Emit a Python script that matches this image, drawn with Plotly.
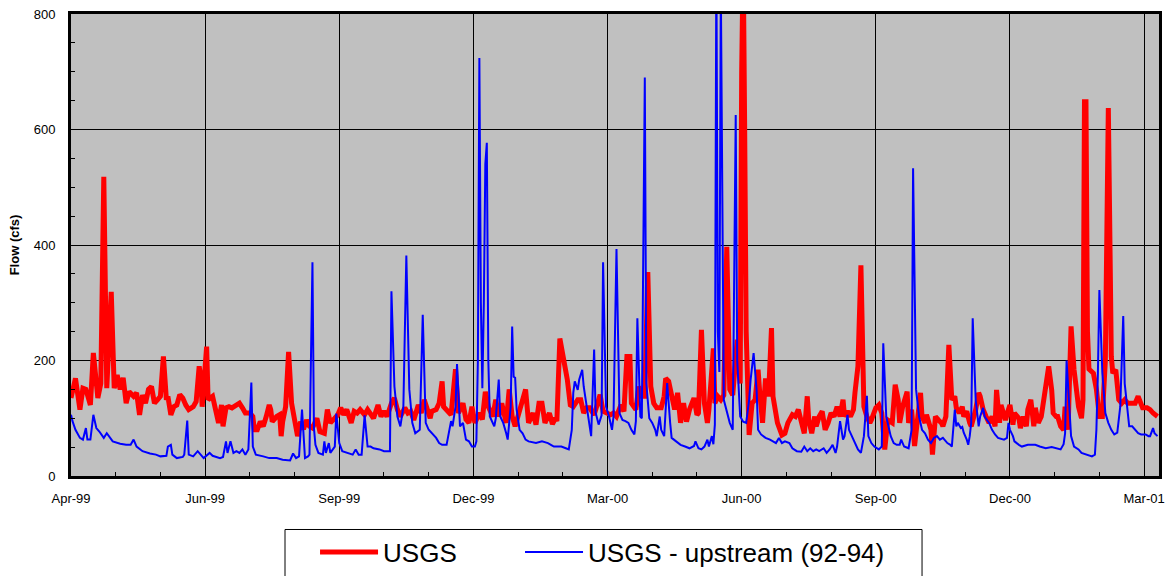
import pandas as pd
import plotly.graph_objects as go

start_date = "1999-04-01"

# USGS gauge: day offset from start_date, flow (cfs)
usgs_day = [0, 3, 6, 8, 10, 13, 15, 18, 20, 22, 24, 27, 29, 31, 33, 35, 37, 39, 42, 44, 46, 48, 50, 52, 54, 56, 58, 60, 62, 64, 65, 67, 69, 71, 73, 75, 77, 79, 82, 84, 86, 87, 88, 91, 92, 95, 97, 99, 101, 102, 104, 106, 108, 111, 113, 115, 117, 120, 122, 123, 125, 127, 129, 131, 133, 134, 135, 138, 140, 141, 142, 144, 146, 148, 150, 152, 154, 156, 158, 160, 162, 165, 167, 170, 172, 174, 177, 179, 181, 183, 185, 188, 190, 192, 194, 197, 199, 201, 203, 206, 208, 210, 212, 215, 217, 219, 221, 224, 226, 228, 230, 233, 235, 237, 239, 241, 242, 245, 247, 249, 250, 252, 255, 258, 260, 263, 265, 267, 269, 271, 274, 276, 278, 280, 283, 285, 287, 289, 292, 294, 296, 298, 301, 303, 305, 307, 310, 312, 314, 316, 318, 321, 323, 325, 326, 328, 329, 331, 333, 335, 337, 340, 342, 344, 346, 348, 351, 353, 355, 357, 360, 362, 364, 366, 369, 371, 373, 375, 376, 379, 381, 383, 385, 387, 389, 391, 393, 396, 398, 399, 401, 403, 405, 407, 409, 411, 413, 415, 418, 420, 421, 423, 425, 427, 428, 431, 432, 434, 436, 438, 440, 442, 444, 447, 449, 450, 451, 452, 453, 455, 457, 459, 461, 462, 464, 466, 468, 470, 471, 474, 475, 477, 479, 481, 484, 486, 488, 490, 492, 494, 495, 497, 499, 500, 502, 504, 506, 508, 510, 512, 514, 516, 518, 519, 521, 523, 525, 526, 528, 530, 531, 532, 534, 536, 537, 540, 542, 544, 546, 548, 551, 553, 555, 556, 558, 561, 562, 564, 566, 568, 570, 571, 573, 574, 576, 577, 578, 580, 582, 584, 585, 587, 589, 591, 593, 594, 596, 598, 599, 601, 603, 604, 607, 609, 610, 612, 614, 616, 618, 620, 621, 623, 624, 627, 629, 630, 632, 633, 636, 637, 639, 641, 642, 644, 646, 647, 649, 651, 652, 654, 656, 658, 659, 661, 662, 664, 666, 667, 669, 670, 671, 673, 675, 676, 678, 679, 680, 681, 682, 683, 686, 688, 690, 692, 694, 696, 698, 699, 701, 703, 705, 707, 709, 712, 714, 716, 717, 719, 722, 724, 726, 728, 729]
usgs_flow = [135, 169, 115, 152, 150, 123, 213, 135, 160, 518, 152, 319, 152, 175, 150, 170, 126, 146, 138, 144, 106, 140, 126, 150, 155, 126, 132, 138, 207, 132, 138, 106, 120, 123, 141, 135, 123, 115, 120, 129, 190, 172, 120, 224, 132, 138, 115, 92, 123, 86, 118, 120, 118, 123, 126, 118, 109, 109, 103, 80, 80, 94, 86, 103, 123, 115, 94, 103, 106, 69, 94, 120, 215, 126, 92, 69, 94, 81, 97, 86, 83, 100, 77, 74, 115, 92, 100, 106, 118, 106, 115, 92, 112, 109, 115, 106, 115, 109, 100, 123, 103, 112, 103, 126, 135, 115, 103, 118, 109, 112, 97, 123, 109, 132, 118, 100, 112, 115, 126, 164, 120, 115, 106, 185, 109, 126, 98, 92, 120, 92, 109, 98, 146, 120, 103, 132, 103, 126, 92, 150, 103, 86, 115, 132, 150, 92, 109, 89, 126, 126, 92, 109, 90, 100, 95, 238, 224, 190, 167, 123, 120, 132, 132, 109, 118, 118, 106, 123, 141, 112, 109, 106, 109, 103, 123, 112, 207, 207, 126, 115, 155, 138, 138, 353, 155, 126, 118, 118, 138, 169, 164, 138, 115, 144, 92, 126, 94, 115, 135, 106, 109, 253, 126, 92, 115, 221, 126, 138, 132, 140, 397, 150, 140, 236, 160, 700, 900, 600, 250, 71, 126, 132, 184, 148, 92, 169, 138, 256, 138, 92, 86, 71, 74, 92, 106, 103, 115, 92, 74, 138, 97, 74, 103, 86, 103, 112, 80, 92, 109, 103, 120, 103, 132, 103, 112, 103, 115, 144, 190, 365, 178, 120, 103, 92, 97, 118, 123, 109, 46, 97, 92, 158, 132, 92, 120, 146, 92, 115, 52, 103, 144, 103, 92, 106, 92, 80, 37, 103, 97, 92, 86, 103, 227, 132, 138, 118, 109, 120, 103, 112, 92, 86, 115, 144, 138, 115, 103, 92, 103, 86, 149, 92, 123, 97, 115, 123, 89, 109, 100, 83, 103, 86, 115, 132, 86, 118, 92, 103, 120, 149, 190, 149, 109, 103, 103, 86, 80, 120, 80, 172, 259, 184, 138, 120, 100, 132, 648, 648, 250, 185, 178, 150, 103, 103, 200, 637, 207, 178, 184, 132, 126, 132, 126, 126, 126, 138, 132, 118, 118, 115, 109, 103, 103]

# USGS - upstream (92-94): day offset from start_date, flow (cfs)
up_day = [0, 1, 3, 6, 8, 10, 11, 13, 15, 17, 19, 22, 24, 26, 28, 33, 37, 40, 42, 44, 48, 53, 57, 60, 64, 65, 67, 68, 71, 75, 76, 78, 79, 82, 85, 87, 89, 93, 95, 100, 102, 104, 105, 107, 109, 111, 113, 115, 117, 119, 121, 122, 124, 129, 133, 138, 142, 147, 149, 151, 153, 155, 157, 159, 160, 162, 163, 164, 166, 169, 170, 171, 173, 174, 177, 178, 180, 182, 186, 189, 191, 193, 195, 197, 199, 201, 203, 207, 210, 214, 215, 217, 219, 221, 223, 225, 227, 229, 231, 234, 236, 238, 240, 242, 245, 247, 249, 252, 255, 256, 258, 259, 261, 263, 264, 265, 267, 269, 271, 272, 273, 274, 275, 276, 277, 278, 279, 280, 281, 282, 284, 285, 287, 288, 290, 292, 293, 295, 296, 297, 298, 299, 301, 303, 305, 307, 312, 316, 320, 322, 324, 326, 329, 332, 334, 336, 337, 338, 340, 341, 343, 344, 346, 348, 349, 351, 352, 354, 356, 357, 359, 361, 363, 364, 366, 368, 370, 372, 374, 376, 378, 379, 380, 382, 383, 385, 386, 388, 390, 392, 393, 395, 396, 398, 400, 402, 403, 406, 409, 412, 415, 418, 419, 421, 423, 425, 427, 428, 430, 431, 432, 433, 434, 435, 436, 438, 440, 442, 444, 446, 447, 449, 451, 453, 455, 456, 458, 460, 461, 463, 466, 469, 473, 475, 477, 479, 482, 484, 487, 490, 492, 494, 496, 498, 500, 502, 505, 507, 509, 511, 513, 514, 516, 518, 519, 521, 522, 524, 526, 528, 530, 532, 534, 535, 537, 539, 542, 544, 545, 547, 550, 552, 554, 556, 557, 559, 562, 564, 565, 567, 569, 571, 573, 575, 577, 579, 581, 583, 585, 588, 590, 591, 593, 594, 595, 597, 598, 599, 601, 602, 603, 604, 605, 607, 609, 610, 612, 613, 616, 618, 620, 622, 626, 628, 629, 630, 632, 633, 636, 638, 642, 647, 650, 654, 658, 662, 664, 666, 667, 668, 670, 671, 673, 676, 678, 681, 685, 687, 688, 689, 690, 692, 694, 696, 698, 700, 702, 704, 706, 707, 709, 710, 712, 714, 716, 718, 721, 723, 724, 726, 727, 729]
up_flow = [106, 95, 80, 66, 63, 83, 63, 63, 106, 83, 77, 66, 74, 66, 60, 56, 54, 54, 63, 51, 43, 39, 37, 34, 35, 51, 54, 37, 31, 33, 37, 96, 37, 34, 43, 37, 31, 40, 35, 31, 33, 60, 40, 60, 40, 43, 40, 46, 37, 46, 162, 51, 37, 34, 31, 31, 28, 27, 39, 31, 34, 115, 31, 34, 37, 370, 83, 54, 40, 37, 60, 40, 57, 40, 51, 108, 57, 43, 40, 37, 46, 37, 37, 105, 51, 51, 48, 46, 43, 43, 320, 155, 103, 86, 120, 382, 150, 92, 74, 80, 279, 92, 80, 74, 66, 57, 54, 54, 95, 86, 120, 194, 86, 92, 75, 63, 60, 51, 51, 60, 200, 724, 300, 152, 300, 540, 577, 200, 103, 97, 86, 100, 167, 103, 92, 74, 63, 120, 259, 172, 170, 115, 80, 74, 63, 60, 57, 60, 57, 54, 51, 51, 51, 48, 46, 80, 144, 164, 149, 167, 184, 155, 120, 92, 69, 219, 110, 89, 105, 370, 120, 103, 80, 103, 393, 109, 97, 95, 92, 80, 72, 95, 273, 103, 100, 690, 161, 100, 92, 80, 69, 103, 80, 69, 161, 92, 66, 60, 54, 51, 48, 52, 60, 48, 46, 51, 63, 51, 69, 55, 89, 900, 250, 180, 850, 132, 112, 92, 80, 625, 200, 103, 94, 92, 132, 167, 213, 149, 80, 72, 66, 63, 57, 66, 57, 60, 57, 48, 43, 42, 51, 43, 48, 43, 46, 43, 48, 40, 46, 54, 40, 51, 95, 63, 69, 106, 80, 69, 57, 46, 40, 69, 139, 69, 57, 51, 46, 51, 230, 103, 69, 57, 54, 54, 63, 51, 48, 80, 533, 150, 103, 80, 74, 63, 57, 66, 69, 63, 66, 57, 54, 51, 115, 86, 92, 83, 85, 75, 63, 54, 69, 92, 273, 132, 86, 103, 118, 103, 92, 80, 72, 66, 63, 66, 92, 80, 69, 60, 54, 51, 54, 54, 51, 48, 50, 48, 46, 55, 74, 200, 103, 69, 51, 46, 40, 37, 34, 37, 80, 178, 322, 178, 109, 92, 80, 72, 75, 120, 277, 160, 103, 86, 86, 80, 74, 72, 72, 69, 69, 83, 74, 69]

tick_labels = ["Apr-99", "Jun-99", "Sep-99", "Dec-99", "Mar-00", "Jun-00", "Sep-00", "Dec-00", "Mar-01"]
tick_step_days = 90
end_date = "2001-03-31"

base = pd.Timestamp(start_date)
usgs_dates = base + pd.to_timedelta(usgs_day, unit="D")
up_dates = base + pd.to_timedelta(up_day, unit="D")
tick_vals = [base + pd.Timedelta(days=tick_step_days * i) for i in range(len(tick_labels))]

fig = go.Figure()
fig.add_trace(go.Scatter(x=usgs_dates, y=usgs_flow, mode="lines", name="USGS",
                         line=dict(color="#FF0000", width=5, shape="linear"), legend="legend"))
fig.add_trace(go.Scatter(x=up_dates, y=up_flow, mode="lines", name="USGS - upstream (92-94)",
                         line=dict(color="#0000FF", width=2, shape="linear"), legend="legend2"))

font_family = "Arial, Liberation Sans, sans-serif"
legend_common = dict(orientation="h", xanchor="left", y=-0.1136, yanchor="top",
                     font=dict(size=26, family=font_family, color="black"),
                     borderwidth=0, bgcolor="rgba(0,0,0,0)", itemwidth=58)
fig.update_layout(
    width=1170, height=576,
    margin=dict(l=71, r=11, t=14, b=100, autoexpand=False),
    paper_bgcolor="white",
    plot_bgcolor="#C0C0C0",
    font=dict(family=font_family, size=13, color="black"),
    showlegend=True,
    legend=dict(x=0.2243, **legend_common),
    legend2=dict(x=0.4127, **legend_common),
    shapes=[dict(type="rect", xref="paper", yref="paper",
                 x0=0.1967, x1=0.7822, y0=-0.1158, y1=-0.235,
                 line=dict(color="black", width=1), fillcolor="white", layer="below")],
)
fig.update_xaxes(
    type="date",
    range=[start_date, end_date],
    tickmode="array", tickvals=tick_vals, ticktext=tick_labels,
    showgrid=True, gridcolor="black", gridwidth=1,
    showline=True, linecolor="black", linewidth=3, mirror=True,
    ticks="inside", ticklen=4, tickcolor="black",
    ticklabelstandoff=8, automargin=False,
    minor=dict(dtick=30 * 86400000, tick0=start_date, ticks="inside", ticklen=4, tickcolor="black", showgrid=False),
    zeroline=False,
)
fig.update_yaxes(
    range=[0, 800],
    tickmode="linear", tick0=0, dtick=200,
    showgrid=True, gridcolor="black", gridwidth=1,
    showline=True, linecolor="black", linewidth=3, mirror=True,
    ticks="inside", ticklen=4, tickcolor="black",
    ticklabelstandoff=10, automargin=False,
    minor=dict(dtick=50, ticks="inside", ticklen=4, tickcolor="black", showgrid=False),
    zeroline=False,
    title=dict(text="Flow (cfs)", font=dict(size=13, family=font_family, weight="bold"), standoff=12),
)

fig.write_html("out.html", config={"displayModeBar": False},
               post_script="document.body.style.margin='0';document.body.style.overflow='hidden';")
